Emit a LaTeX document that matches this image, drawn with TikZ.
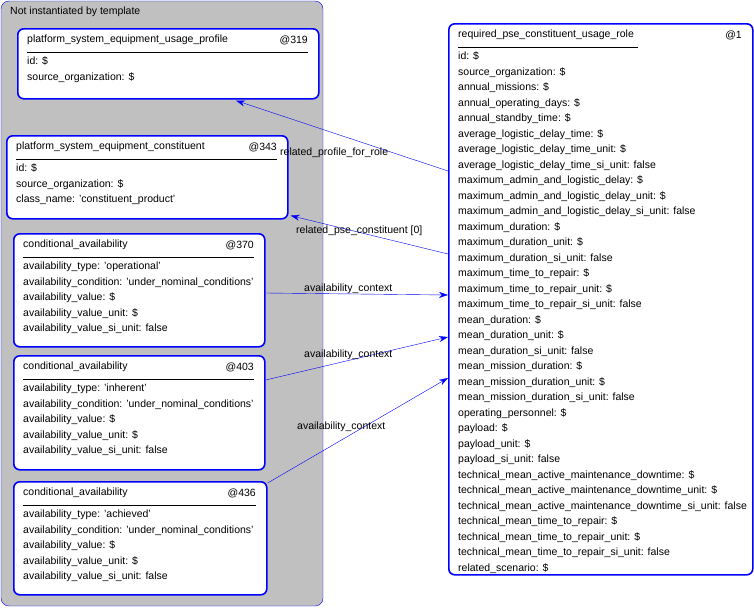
\documentclass[tikz,border=0pt]{standalone}
\usepackage{fontspec}
\setmainfont{Liberation Sans}
\usetikzlibrary{arrows.meta,calc}
\definecolor{grp}{HTML}{C0C0C0}
\tikzset{
  ent/.style={draw=blue, line width=1.6pt, rounded corners=6pt, fill=white, anchor=north west, inner sep=0pt},
  row/.style={anchor=north west, align=left, inner sep=0pt, font=\fontsize{10.5}{15.5}\selectfont},
  ttl/.style={anchor=west, inner sep=0pt, font=\fontsize{10.5}{12}\selectfont},
  link/.style={draw=blue, -{Stealth[length=9pt,width=6pt]}},
  lbl/.style={inner sep=0pt, font=\fontsize{10.5}{12}\selectfont}
}
% entity box: name, x, y, width, height, title, id, rule length, rows
\newcommand{\entbox}[9]{
  \node[ent, minimum width=#4pt, minimum height=#5pt] (#1) at (#2,#3) {};
  \node[ttl] (#1t) at (#2+10,#3+12) {#6};
  \node[ttl, anchor=east] (#1i) at (#2+#4-10,#3+12) {#7};
  \draw ($(#1.north west)+(10,24)$) -- ++(#8,0);
  \node[row] (#1r) at (#2+10,#3+29) {#9};
}
\begin{document}
\begin{tikzpicture}[x=1pt,y=-1pt]
\useasboundingbox (0,0) rectangle (754,608);
\draw[blue, fill=grp, rounded corners=8pt] (1,1) rectangle (323,606);
\node[ttl] (grpt) at (10,12) {Not instantiated by template};

\entbox{pu}{17}{28}{301}{70}{platform\_system\_equipment\_usage\_profile}{@319}{281}{id: \$\\source\_organization: \$}
\entbox{pc}{6}{135}{281}{83}{platform\_system\_equipment\_constituent}{@343}{261}{id: \$\\source\_organization: \$\\class\_name: 'constituent\_product'}
\entbox{ca}{13}{233}{251}{113}{conditional\_availability}{@370}{231}{availability\_type: 'operational'\\availability\_condition: 'under\_nominal\_conditions'\\availability\_value: \$\\availability\_value\_unit: \$\\availability\_value\_si\_unit: false}
\entbox{cb}{13}{355}{251}{114}{conditional\_availability}{@403}{231}{availability\_type: 'inherent'\\availability\_condition: 'under\_nominal\_conditions'\\availability\_value: \$\\availability\_value\_unit: \$\\availability\_value\_si\_unit: false}
\entbox{cc}{13}{481}{253}{113}{conditional\_availability}{@436}{233}{availability\_type: 'achieved'\\availability\_condition: 'under\_nominal\_conditions'\\availability\_value: \$\\availability\_value\_unit: \$\\availability\_value\_si\_unit: false}
\entbox{ru}{448}{23}{304}{551}{required\_pse\_constituent\_usage\_role}{@1}{180}{id: \$\\source\_organization: \$\\annual\_missions: \$\\annual\_operating\_days: \$\\annual\_standby\_time: \$\\average\_logistic\_delay\_time: \$\\average\_logistic\_delay\_time\_unit: \$\\average\_logistic\_delay\_time\_si\_unit: false\\maximum\_admin\_and\_logistic\_delay: \$\\maximum\_admin\_and\_logistic\_delay\_unit: \$\\maximum\_admin\_and\_logistic\_delay\_si\_unit: false\\maximum\_duration: \$\\maximum\_duration\_unit: \$\\maximum\_duration\_si\_unit: false\\maximum\_time\_to\_repair: \$\\maximum\_time\_to\_repair\_unit: \$\\maximum\_time\_to\_repair\_si\_unit: false\\mean\_duration: \$\\mean\_duration\_unit: \$\\mean\_duration\_si\_unit: false\\mean\_mission\_duration: \$\\mean\_mission\_duration\_unit: \$\\mean\_mission\_duration\_si\_unit: false\\operating\_personnel: \$\\payload: \$\\payload\_unit: \$\\payload\_si\_unit: false\\technical\_mean\_active\_maintenance\_downtime: \$\\technical\_mean\_active\_maintenance\_downtime\_unit: \$\\technical\_mean\_active\_maintenance\_downtime\_si\_unit: false\\technical\_mean\_time\_to\_repair: \$\\technical\_mean\_time\_to\_repair\_unit: \$\\technical\_mean\_time\_to\_repair\_si\_unit: false\\related\_scenario: \$}

% links
\draw[link] ($(ru.north west)+(0,148)$) -- ($(pu.south west)+(219,1)$);
\draw[link] ($(ru.north west)+(0,231)$) -- ($(pc.south east)+(2,-4)$);
\draw[link] ($(ca.north east)+(0,60)$) -- ($(ru.north west)+(0,272)$);
\draw[link] ($(cb.north east)+(0,25)$) -- ($(ru.north west)+(0,314)$);
\draw[link] ($(cc.north east)+(0,2)$) -- ($(ru.north west)+(0,355)$);
\node[lbl, anchor=west] (l1) at (280,153) {related\_profile\_for\_role};
\node[lbl, anchor=west] (l2) at (296,231) {related\_pse\_constituent [0]};
\node[lbl, anchor=west] (l3) at (304,289) {availability\_context};
\node[lbl, anchor=west] (l4) at (304,355) {availability\_context};
\node[lbl, anchor=west] (l5) at (297,427) {availability\_context};
\end{tikzpicture}
\end{document}
